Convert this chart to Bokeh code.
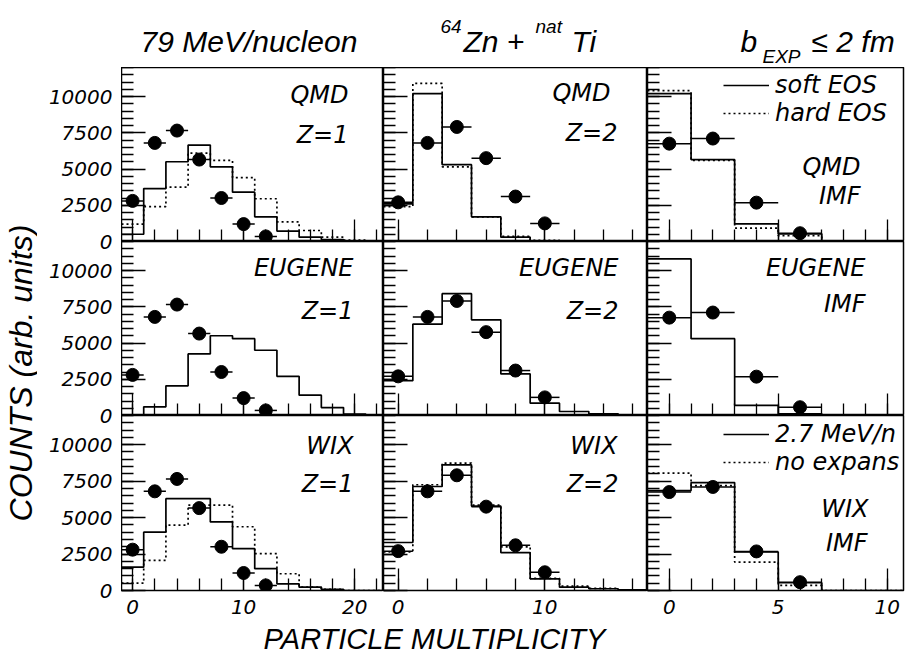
import numpy as np
from bokeh.plotting import figure
from bokeh.layouts import row, column
from bokeh.models import Range1d, FixedTicker, Legend, LegendItem, LinearAxis
from bokeh.core.properties import value
from bokeh.embed import file_html
from bokeh.resources import INLINE

# ---------------- data ----------------
# experimental points (bin centres / counts)
z1_mult = [0, 2, 4, 6, 8, 10, 12]
z1_exp = [2800, 6800, 7650, 5650, 3000, 1200, 350]
z2_mult = [0, 2, 4, 6, 8, 10]
z2_exp = [2700, 6800, 7900, 5750, 3100, 1250]
imf_mult = [0, 2, 4, 6]
imf_exp = [6750, 7100, 2680, 570]

# model histograms (bin centres, width 2)
z1_bins = [0, 2, 4, 6, 8, 10, 12, 14, 16, 18, 20, 22]
qmd_z1_soft = [500, 3650, 5500, 6650, 5150, 3400, 1700, 720, 300, 130, 50, 0]
qmd_z1_hard = [1200, 2400, 3750, 6100, 5600, 4400, 2950, 1350, 760, 300, 100, 0]
eug_z1 = [50, 600, 2050, 4250, 5500, 5300, 4500, 2700, 1400, 550, 100, 0]
wix_z1_exp = [1600, 4000, 6300, 6300, 4700, 2870, 1500, 460, 230, 80, 0, 0]
wix_z1_noexp = [500, 2070, 4480, 5860, 5860, 4370, 2530, 1150, 230, 80, 0, 0]

z2_bins = [0, 2, 4, 6, 8, 10, 12, 14, 16]
qmd_z2_soft = [2600, 10200, 5300, 1700, 300, 50, 0, 0, 0]
qmd_z2_hard = [2400, 10900, 5150, 1700, 350, 80, 0, 0, 0]
eug_z2 = [2400, 6300, 8400, 6600, 2870, 850, 275, 115, 30]
wix_z2_exp = [3290, 7130, 8620, 5790, 2600, 800, 230, 120, 50]
wix_z2_noexp = [2640, 7250, 8740, 5860, 2990, 830, 300, 150, 50]

imf_bins = [0, 2, 4, 6, 8, 10]
qmd_imf_soft = [10200, 5650, 1220, 530, 0, 0]
qmd_imf_hard = [10400, 5600, 920, 400, 0, 0]
eug_imf = [10800, 5300, 700, 120, 0, 0]
wix_imf_exp = [6850, 7400, 2640, 530, 0, 0]
wix_imf_noexp = [8050, 7190, 1950, 350, 0, 0]

# ticks
y_major = [0, 2500, 5000, 7500, 10000]
y_major_labels = ["0", "2500", "5000", "7500", "10000"]
y_minor = list(range(0, 12001, 500))
x_major = [[0, 10, 20], [0, 10], [0, 5, 10]]
x_major_labels = [["0", "10", "20"], ["0", "10"], ["0", "5", "10"]]
x_minor = [list(range(0, 23, 2)), list(range(0, 17, 2)), list(range(0, 11, 1))]

# ---------------- layout (page origin at 0,0) ----------------
col_xlims = [(-1, 22.6), (-1, 17), (-1, 10.75)]
col_frame_w = [262, 264, 256]
row_frame_h = [174, 174, 175]
Y_TOP = 12000
RIGHT_B = 9
BOTTOM_B = 33
TITLE_H = 67
TOTAL_W = 912
TOTAL_H = 656
TL_W = 84            # strip holding the y tick labels
YLAB_W = TOTAL_W - (TL_W + sum(col_frame_w) + RIGHT_B)
XLAB_H = TOTAL_H - TITLE_H - sum(row_frame_h) - BOTTOM_B

TICK_FONT = "DejaVu Sans"
PANEL_FONT = "DejaVu Sans"
TITLE_FONT = "Liberation Sans"


def hist_edges(centres, counts):
    half = (centres[1] - centres[0]) / 2.0
    xs = [c - half for c in centres] + [centres[-1] + half]
    ys = list(counts) + [counts[-1]]
    return xs, ys


def tick_axis(p, side, positions, length, labels=None):
    """Axis sitting on the frame edge with inward ticks only."""
    if labels is None:
        tk = FixedTicker(ticks=[], minor_ticks=positions)
    else:
        tk = FixedTicker(ticks=positions, minor_ticks=[])
    ax = LinearAxis(ticker=tk)
    ax.axis_line_color = None
    ax.major_tick_out = 0
    ax.minor_tick_out = 0
    ax.major_tick_in = length
    ax.minor_tick_in = length
    ax.major_tick_line_color = "black"
    ax.minor_tick_line_color = "black"
    ax.major_tick_line_width = 1.3
    ax.minor_tick_line_width = 1.3
    if labels is not None:
        ax.major_label_overrides = dict(zip(positions, labels))
        ax.major_label_text_font = TICK_FONT
        ax.major_label_text_font_style = "italic"
        ax.major_label_text_font_size = "20px"
        ax.major_label_text_color = "black"
        ax.major_label_standoff = 9
    p.add_layout(ax, side)
    return ax


panels = [
    # row 0 : QMD
    dict(r=0, c=0, mult=z1_mult, exp=z1_exp, bins=z1_bins, solid=qmd_z1_soft, dotted=qmd_z1_hard,
         labels=[("QMD", 35, 27), ("Z=1", 35, 67)]),
    dict(r=0, c=1, mult=z2_mult, exp=z2_exp, bins=z2_bins, solid=qmd_z2_soft, dotted=qmd_z2_hard,
         labels=[("QMD", 37, 25), ("Z=2", 30, 65)]),
    dict(r=0, c=2, mult=imf_mult, exp=imf_exp, bins=imf_bins, solid=qmd_imf_soft, dotted=qmd_imf_hard,
         labels=[("QMD", 43, 99), ("IMF", 43, 128)], legend=("soft EOS", "hard EOS")),
    # row 1 : EUGENE
    dict(r=1, c=0, mult=z1_mult, exp=z1_exp, bins=z1_bins, solid=eug_z1, dotted=None,
         labels=[("EUGENE", 30, 26), ("Z=1", 30, 69)]),
    dict(r=1, c=1, mult=z2_mult, exp=z2_exp, bins=z2_bins, solid=eug_z2, dotted=None,
         labels=[("EUGENE", 29, 26), ("Z=2", 29, 69)]),
    dict(r=1, c=2, mult=imf_mult, exp=imf_exp, bins=imf_bins, solid=eug_imf, dotted=None,
         labels=[("EUGENE", 38, 26), ("IMF", 38, 62)]),
    # row 2 : WIX
    dict(r=2, c=0, mult=z1_mult, exp=z1_exp, bins=z1_bins, solid=wix_z1_exp, dotted=wix_z1_noexp,
         labels=[("WIX", 30, 30), ("Z=1", 30, 68)]),
    dict(r=2, c=1, mult=z2_mult, exp=z2_exp, bins=z2_bins, solid=wix_z2_exp, dotted=wix_z2_noexp,
         labels=[("WIX", 30, 30), ("Z=2", 29, 68)]),
    dict(r=2, c=2, mult=imf_mult, exp=imf_exp, bins=imf_bins, solid=wix_imf_exp, dotted=wix_imf_noexp,
         labels=[("WIX", 35, 93), ("IMF", 36, 127)], legend=("2.7 MeV/n", "no expans")),
]


def make_panel(d):
    r, c = d["r"], d["c"]
    fw, fh = col_frame_w[c], row_frame_h[r]
    rb = RIGHT_B if c == 2 else 0
    bb = BOTTOM_B if r == 2 else 0
    xr = Range1d(*col_xlims[c])
    yr = Range1d(0, Y_TOP)
    p = figure(width=fw + rb, height=fh + bb, x_range=xr, y_range=yr,
               x_axis_type=None, y_axis_type=None,
               output_backend="svg", toolbar_location=None,
               min_border_left=0, min_border_right=rb, min_border_top=0, min_border_bottom=bb)
    p.grid.visible = False
    p.outline_line_color = "black"
    p.outline_line_width = 1.5
    p.background_fill_color = "white"
    p.border_fill_color = "white"

    # inward ticks: short every step, long at the major values
    tick_axis(p, "left", y_minor, 12)
    tick_axis(p, "left", y_major, 24)
    tick_axis(p, "below", x_minor[c], 12)
    if r == 2:
        tick_axis(p, "below", x_major[c], 22, labels=x_major_labels[c])
    else:
        tick_axis(p, "below", x_major[c], 22)

    xs, ys = hist_edges(d["bins"], d["solid"])
    r_solid = p.step(xs, ys, mode="after", line_color="black", line_width=1.7)
    r_dot = None
    if d["dotted"] is not None:
        xs2, ys2 = hist_edges(d["bins"], d["dotted"])
        r_dot = p.step(xs2, ys2, mode="after", line_color="black", line_width=1.7,
                       line_dash="2 3")

    m = np.array(d["mult"], dtype=float)
    e = np.array(d["exp"], dtype=float)
    p.segment(x0=m - 1, x1=m + 1, y0=e, y1=e, line_color="black", line_width=1.5)
    p.scatter(m, e, size=13, marker="circle", color="black")

    for txt, dx, dy in d["labels"]:
        x = xr.end - dx * (xr.end - xr.start) / fw
        y = yr.end - dy * (yr.end - yr.start) / fh
        p.text(x=[x], y=[y], text=[txt], text_align="right", text_baseline="middle",
               text_font=value(PANEL_FONT), text_font_style="italic",
               text_font_size="24px", text_color="black")

    if "legend" in d:
        la, lb_ = d["legend"]
        leg = Legend(items=[LegendItem(label=la, renderers=[r_solid]),
                            LegendItem(label=lb_, renderers=[r_dot])],
                     location=(76, 114), orientation="vertical",
                     border_line_color=None, background_fill_alpha=0,
                     label_text_font=PANEL_FONT, label_text_font_style="italic",
                     label_text_font_size="24px", label_text_color="black",
                     label_text_line_height=0.85,
                     glyph_width=46, glyph_height=22, label_height=22,
                     spacing=0, padding=0, margin=0, label_standoff=6)
        p.add_layout(leg)
    return p


figs = {}
for d in panels:
    figs[(d["r"], d["c"])] = make_panel(d)

grid = column(*[row(*[figs[(r, c)] for c in range(3)]) for r in range(3)])


def strip(w, h):
    f = figure(width=w, height=h, x_range=Range1d(0, w), y_range=Range1d(0, h),
               x_axis_type=None, y_axis_type=None,
               output_backend="svg", toolbar_location=None,
               min_border_left=0, min_border_right=0, min_border_top=0, min_border_bottom=0)
    f.grid.visible = False
    f.outline_line_color = None
    return f


# ---- y tick-label strip: one axis carrying the labels of the three rows ----
strip_h = sum(row_frame_h) + BOTTOM_B
tl_pos, tl_lab = [], []
base = BOTTOM_B
for r in reversed(range(3)):
    for v, lab in zip(y_major, y_major_labels):
        tl_pos.append(base + v / Y_TOP * row_frame_h[r])
        tl_lab.append(lab)
    base += row_frame_h[r]
tl = figure(width=TL_W, height=strip_h, x_range=Range1d(0, 1), y_range=Range1d(0, strip_h),
            x_axis_type=None, y_axis_type=None, output_backend="svg", toolbar_location=None,
            min_border_left=TL_W - 1, min_border_right=0, min_border_top=0, min_border_bottom=0)
tl.grid.visible = False
tl.outline_line_color = None
tl_ax = tick_axis(tl, "left", tl_pos, 0, labels=tl_lab)
tl_ax.major_tick_line_color = None
tl_ax.major_label_standoff = 8

# ---- title strip (x = page pixels, y measured from strip bottom) ----
t = strip(TOTAL_W, TITLE_H)
title_big = ["79 MeV/nucleon", "Zn +", "Ti", "b", "\u2264 2 fm"]
title_big_x = [140, 463, 571, 740, 811]
title_small = ["64", "nat", "EXP"]
title_small_x = [440, 535, 762]
title_small_y = [TITLE_H - 26, TITLE_H - 26, TITLE_H - 56]
t.text(x=title_big_x, y=[TITLE_H - 41] * len(title_big), text=title_big, text_align="left",
       text_baseline="middle", text_font=value(TITLE_FONT), text_font_style="italic",
       text_font_size="30px", text_color="black")
t.text(x=title_small_x, y=title_small_y, text=title_small, text_align="left",
       text_baseline="middle", text_font=value(TITLE_FONT), text_font_style="italic",
       text_font_size="19px", text_color="black")

# ---- y label strip ----
yl = strip(YLAB_W, strip_h)
yl.text(x=[YLAB_W - 17], y=[strip_h - (368 - TITLE_H)], text=["COUNTS  (arb. units)"],
        angle=np.pi / 2, text_align="center", text_baseline="middle",
        text_font=value(TITLE_FONT), text_font_style="italic", text_font_size="32px",
        text_color="black")

# ---- x label strip ----
xl = strip(TOTAL_W, XLAB_H)
xl.text(x=[446], y=[TOTAL_H - 638], text=["PARTICLE    MULTIPLICITY"],
        text_align="center", text_baseline="middle", text_font=value(TITLE_FONT),
        text_font_style="italic", text_font_size="29px", text_color="black")

layout = column(t, row(yl, tl, grid), xl)

open("out.html", "w").write(file_html(layout, INLINE))
